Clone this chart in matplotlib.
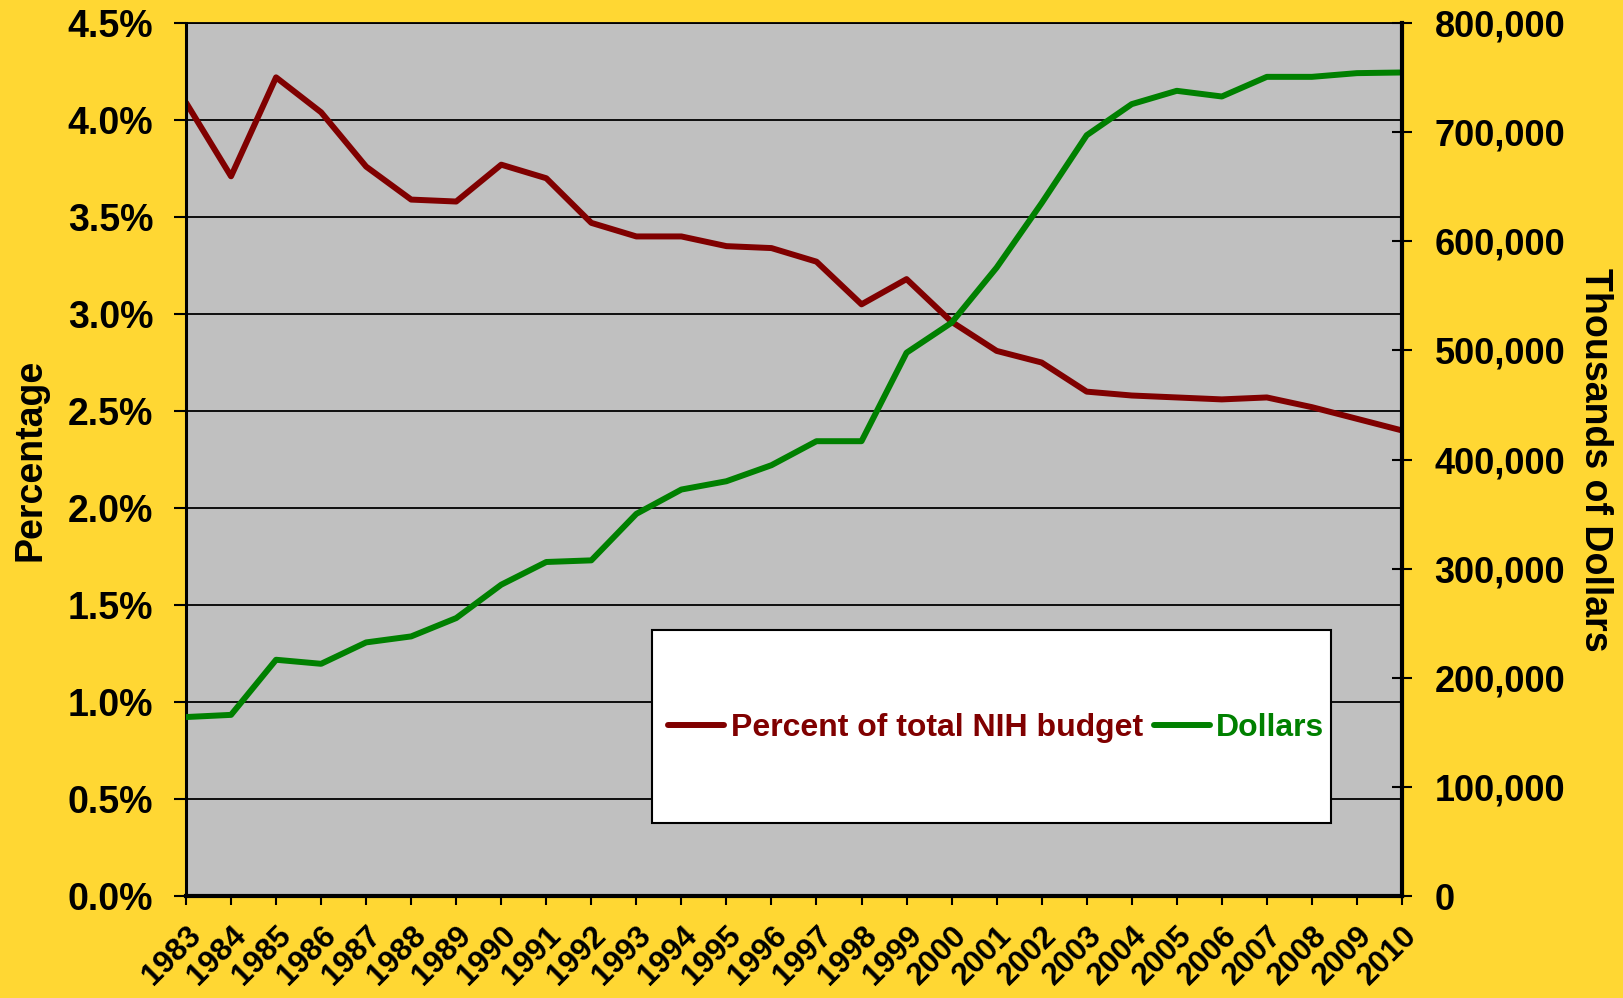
import matplotlib.pyplot as plt
from matplotlib.patches import Rectangle
from matplotlib.ticker import FuncFormatter, MultipleLocator

plt.rcParams['font.family'] = ['Liberation Sans', 'DejaVu Sans']
plt.rcParams['font.weight'] = 'bold'

years = list(range(1983, 2011))

# share of total NIH budget (%)
pct = [4.09, 3.71, 4.22, 4.04, 3.76, 3.59, 3.58, 3.77, 3.70, 3.47,
       3.40, 3.40, 3.35, 3.34, 3.27, 3.05, 3.18, 2.96, 2.81, 2.75,
       2.60, 2.58, 2.57, 2.56, 2.57, 2.52, 2.46, 2.40]

# thousands of dollars
dollars = [164000, 166000, 216500, 212800, 232400, 237900, 254700, 285300,
           306100, 307600, 350200, 372500, 380100, 394800, 416800, 416800,
           497900, 525400, 575900, 635000, 697200, 725700, 737900, 732700,
           750700, 750700, 754100, 754700]

yellow = '#FFD733'
red = '#800000'
green = '#008000'

fig = plt.figure(figsize=(16.23, 9.98), dpi=100, facecolor=yellow)
ax = fig.add_axes([0.1146, 0.1022, 0.7492, 0.8747])
ax.set_facecolor('#C0C0C0')
ax2 = ax.twinx()

l1, = ax.plot(years, pct, color=red, lw=4.3, solid_capstyle='round',
              label='Percent of total NIH budget')
l2, = ax2.plot(years, dollars, color=green, lw=4.3, solid_capstyle='round',
               label='Dollars')

ax.set_xlim(1983, 2010)
ax.set_ylim(0, 4.5)
ax2.set_ylim(0, 800000)

ax.yaxis.set_major_locator(MultipleLocator(0.5))
ax.yaxis.set_major_formatter(FuncFormatter(lambda v, p: f'{v:.1f}%'))
ax2.yaxis.set_major_locator(MultipleLocator(100000))
ax2.yaxis.set_major_formatter(FuncFormatter(lambda v, p: f'{int(v):,}'))

ax.set_axisbelow(True)
ax.grid(axis='y', color='black', lw=1.3)
ax.grid(axis='x', visible=False)

ax.set_xticks(years)
ax.set_xticklabels([str(y) for y in years], rotation=45, ha='right', va='top',
                   rotation_mode='anchor', fontsize=22.5, fontweight='bold')

ax.tick_params(axis='y', direction='out', length=8.6, width=1.5, pad=15,
               labelsize=27)
ax.tick_params(axis='x', direction='out', length=6.5, width=1.5, pad=11)
ax2.tick_params(axis='y', direction='inout', length=15, width=1.5, pad=16,
                labelsize=26)

ax.spines['top'].set_linewidth(1.3)
ax2.spines['top'].set_visible(False)
ax.spines['right'].set_visible(False)
ax2.spines['left'].set_visible(False)
ax2.spines['bottom'].set_visible(False)
ax.spines['left'].set_linewidth(2.2)
ax.spines['bottom'].set_linewidth(3)
ax2.spines['right'].set_linewidth(3)

ax.set_ylabel('Percentage', fontsize=27, fontweight='bold', labelpad=14)
ax2.set_ylabel('Thousands of Dollars', fontsize=27, fontweight='bold',
               rotation=270, labelpad=34)

# legend box
ax2.add_patch(Rectangle((0.383, 0.0836), 0.5586, 0.2211, transform=ax2.transAxes,
                        facecolor='white', edgecolor='black', lw=1.5, zorder=5))
leg = ax2.legend(handles=[l1, l2], loc='center', bbox_to_anchor=(0.6665, 0.1924),
                 ncol=2, frameon=False, handlelength=1.75,
                 handletextpad=0.2, columnspacing=0.35, labelcolor='linecolor',
                 prop={'weight': 'bold', 'size': 23})
leg.set_zorder(6)

fig.savefig('out.png', dpi=100, facecolor=yellow)
